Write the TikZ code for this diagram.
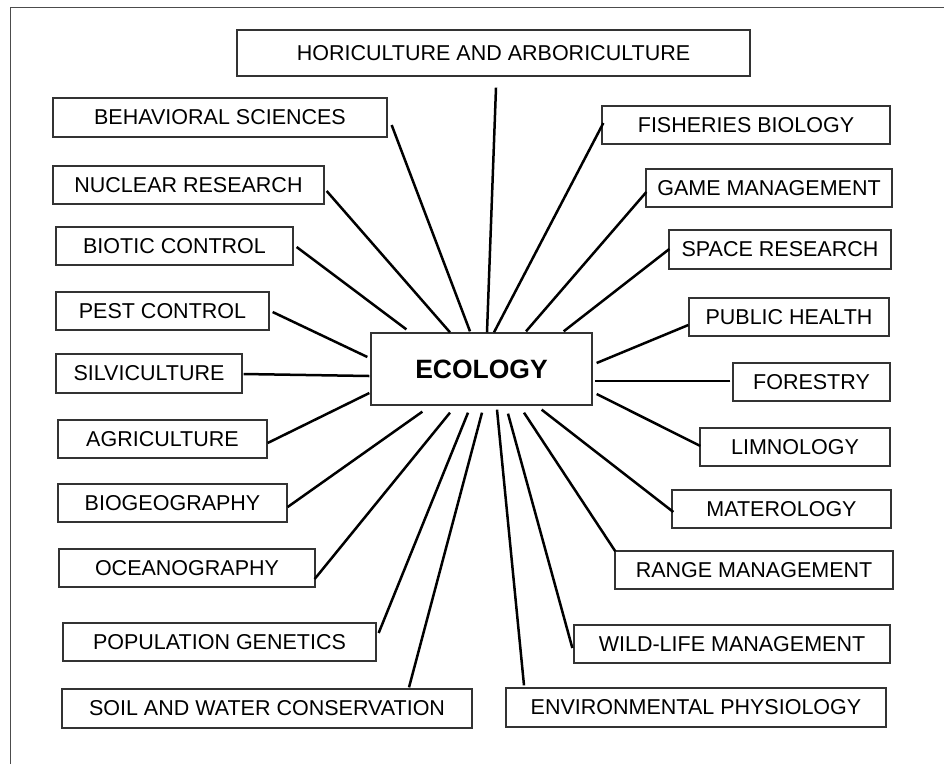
\documentclass[tikz,border=0pt]{standalone}
\usepackage{fontspec}
\setmainfont{Liberation Sans}
\usetikzlibrary{calc}
\begin{document}
\begin{tikzpicture}[x=1pt,y=-1pt,
  topic/.style={draw=black!80,line width=1.3pt,fill=white,inner sep=0pt,
    font=\fontsize{21.5}{25}\selectfont,minimum height=38pt},
  hub/.style={draw=black!80,line width=1.3pt,fill=white,inner sep=0pt,
    font=\fontsize{26.5}{30}\selectfont\bfseries},
  link/.style={draw=black,line width=2.5pt}]
\useasboundingbox (0,0) rectangle (944,764);
% frame edges
\draw[black!70,line width=1pt] (10.5,764) -- (10.5,7.5) -- (944,7.5);

% central topic
\node[hub,minimum width=221pt,minimum height=72pt] (eco) at (481.5,369) {ECOLOGY};

% surrounding disciplines
\node[topic,minimum width=513pt,minimum height=46pt] (hort) at (493.5,53) {HORICULTURE AND ARBORICULTURE};
\node[topic,minimum width=334pt,minimum height=39pt] (behav) at (220,117.5) {BEHAVIORAL SCIENCES};
\node[topic,minimum width=288pt] (fish) at (746,125) {FISHERIES BIOLOGY};
\node[topic,minimum width=271pt] (nuclear) at (188.5,185) {NUCLEAR RESEARCH};
\node[topic,minimum width=246pt] (game) at (769,188) {GAME MANAGEMENT};
\node[topic,minimum width=237pt] (biotic) at (174.5,246) {BIOTIC CONTROL};
\node[topic,minimum width=222pt,minimum height=39pt] (space) at (780,249.5) {SPACE RESEARCH};
\node[topic,minimum width=213pt] (pest) at (162.5,311) {PEST CONTROL};
\node[topic,minimum width=200pt] (public) at (789,317) {PUBLIC HEALTH};
\node[topic,minimum width=186pt,minimum height=39pt] (silvi) at (149,373.5) {SILVICULTURE};
\node[topic,minimum width=157pt] (forestry) at (811.5,382) {FORESTRY};
\node[topic,minimum width=209pt] (agri) at (162.5,439) {AGRICULTURE};
\node[topic,minimum width=190pt] (limno) at (795,447) {LIMNOLOGY};
\node[topic,minimum width=229pt] (biogeo) at (172.5,503) {BIOGEOGRAPHY};
\node[topic,minimum width=219pt] (matero) at (781.5,509) {MATEROLOGY};
\node[topic,minimum width=256pt] (ocean) at (187,568) {OCEANOGRAPHY};
\node[topic,minimum width=278pt] (range) at (754,570) {RANGE MANAGEMENT};
\node[topic,minimum width=313pt] (popgen) at (219.5,642) {POPULATION GENETICS};
\node[topic,minimum width=316pt] (wild) at (732,644) {WILD-LIFE MANAGEMENT};
\node[topic,minimum width=410pt,minimum height=39pt] (soil) at (267,708.5) {SOIL AND WATER CONSERVATION};
\node[topic,minimum width=380pt,minimum height=39pt] (env) at (696,707.5) {ENVIRONMENTAL PHYSIOLOGY};

% spokes from each discipline towards the centre
\draw[link] ($(hort.south)+(2.5,11)$) -- ($(eco.north)+(5.5,0)$);
\draw[link] ($(behav.east)+(4,7.5)$) -- ($(eco.north)+(-11.5,-1)$);
\draw[link] ($(fish.west)+(2,-2)$) -- ($(eco.north)+(12.5,0)$);
\draw[link] ($(nuclear.east)+(2,6)$) -- ($(eco.north)+(-31.5,0)$);
\draw[link] ($(game.west)+(1,4)$) -- ($(eco.north)+(44.5,-1)$);
\draw[link] ($(biotic.east)+(3,1)$) -- ($(eco.north west)+(36,-3)$);
\draw[link] ($(space.west)+(1,-0.5)$) -- ($(eco.north east)+(-29,-1)$);
\draw[link] ($(pest.east)+(3,1)$) -- ($(eco.west)+(-3,-12)$);
\draw[link] ($(public.west)+(0,8)$) -- ($(eco.east)+(4,-6)$);
\draw[link] ($(silvi.east)+(1,0.5)$) -- ($(eco.west)+(-1,7)$);
\draw[link] ($(forestry.west)+(-2,-1)$) -- ($(eco.east)+(2,12)$);
\draw[link] ($(agri.east)+(0,4)$) -- ($(eco.west)+(-1,24)$);
\draw[link] ($(limno.west)+(1,-1)$) -- ($(eco.east)+(4,25)$);
\draw[link] ($(biogeo.east)+(0,4)$) -- ($(eco.south west)+(52,6)$);
\draw[link] ($(matero.west)+(2,3)$) -- ($(eco.south east)+(-51,4)$);
\draw[link] ($(ocean.east)+(-1,11)$) -- ($(eco.south)+(-31.5,7)$);
\draw[link] ($(range.north west)+(1,1)$) -- ($(eco.south)+(42.5,7)$);
\draw[link] ($(popgen.east)+(2,-9)$) -- ($(eco.south)+(-13.5,7)$);
\draw[link] ($(wild.west)+(-1,4)$) -- ($(eco.south)+(26.5,8)$);
\draw[link] ($(soil.north)+(142,-1)$) -- ($(eco.south)+(0.5,7)$);
\draw[link] ($(env.north)+(-172,-2)$) -- ($(eco.south)+(15.5,4)$);
\end{tikzpicture}
\end{document}
